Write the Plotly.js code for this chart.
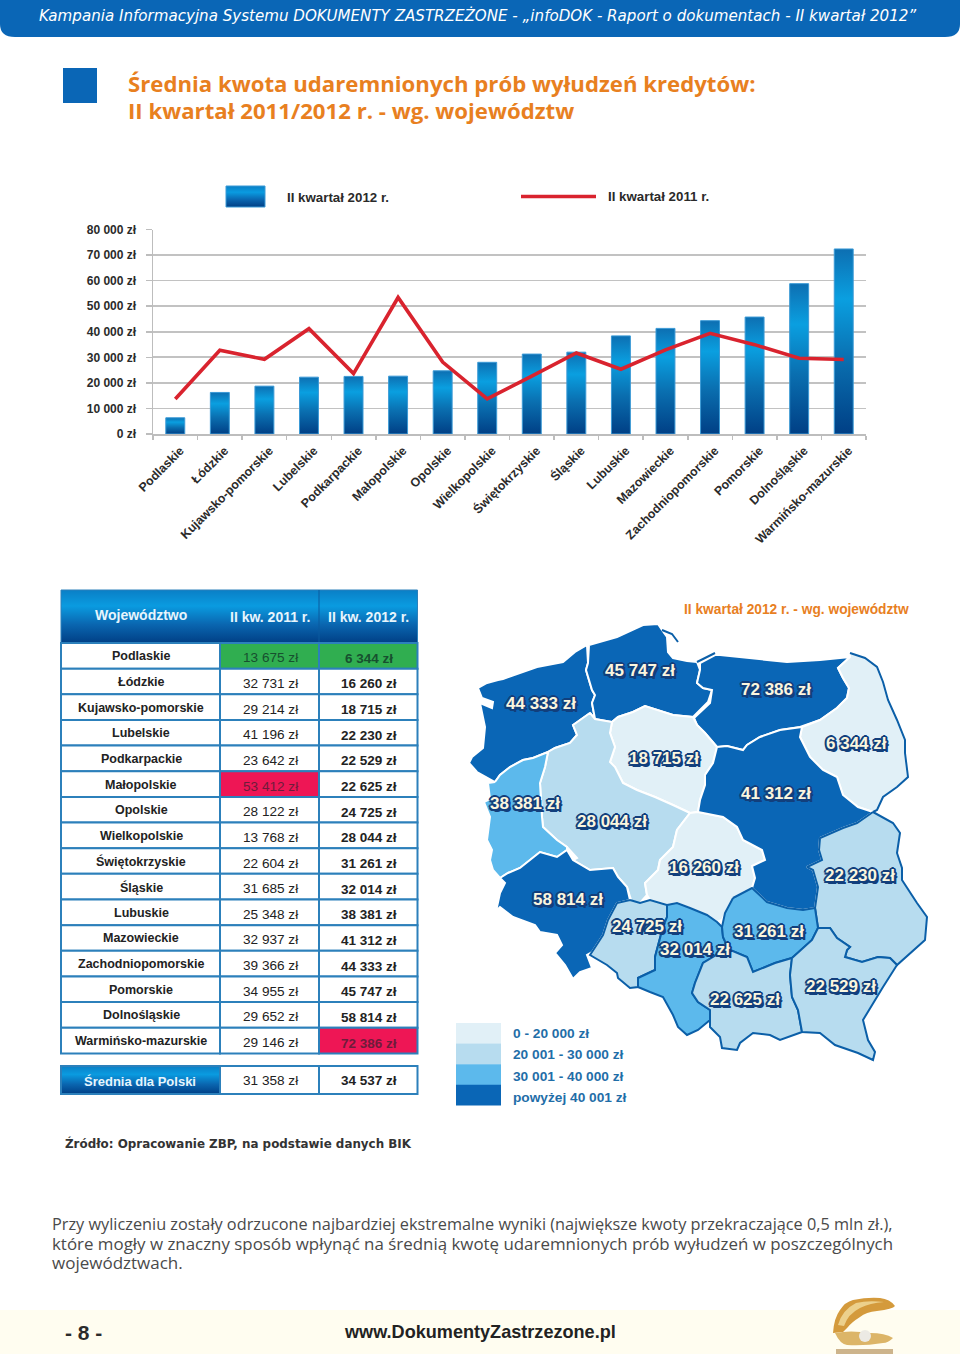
<!DOCTYPE html>
<html lang="pl"><head><meta charset="utf-8">
<script src="https://cdn.plot.ly/plotly-3.0.1.min.js"></script>
<style>html,body{margin:0;padding:0;background:#fff}#g{width:960px;height:1354px}</style>
</head><body><div id="g"></div>
<script>
const regions=["Podlaskie","Łódzkie","Kujawsko-pomorskie","Lubelskie","Podkarpackie","Małopolskie","Opolskie","Wielkopolskie","Świętokrzyskie","Śląskie","Lubuskie","Mazowieckie","Zachodniopomorskie","Pomorskie","Dolnośląskie","Warmińsko-mazurskie"];
const q2_2011=[13675,32731,29214,41196,23642,53412,28122,13768,22604,31685,25348,32937,39366,34955,29652,29146];
const q2_2012=[6344,16260,18715,22230,22529,22625,24725,28044,31261,32014,38381,41312,44333,45747,58814,72386];
const avg2011=31358, avg2012=34537;
const yTicks=[0,10000,20000,30000,40000,50000,60000,70000,80000];
const legendBins=["0 - 20 000 zł","20 001 - 30 000 zł","30 001 - 40 000 zł","powyżej 40 001 zł"];
const binColors=["#e1f0f7","#b7dcef","#5cb9ec","#0a66b6"];

const outlineZachodniopomorskie=[[478,688],[487,683],[498,680],[503,679],[537,667],[563,662],[575,652],[587,645],[588,663],[586,670],[592,690],[595,695],[592,703],[595,719],[590,713],[573,725],[577,735],[570,743],[555,748],[548,752],[533,758],[523,760],[510,767],[500,775],[495,782],[488,778],[477,772],[469,763],[472,757],[483,748],[485,727],[480,703],[492,708],[493,702],[482,698]];
const outlinePomorskie=[[589,645],[617,637],[643,625],[658,624],[662,630],[667,637],[668,652],[673,658],[687,661],[697,662],[700,670],[697,683],[703,688],[712,690],[708,702],[693,717],[673,715],[657,710],[645,706],[633,712],[618,717],[612,722],[595,719],[592,703],[595,695],[592,690],[586,670],[588,663]];
const outlineWarminsko=[[700,663],[715,655],[720,655],[760,659],[787,662],[820,660],[850,657],[838,668],[843,678],[849,688],[847,698],[837,708],[820,720],[800,727],[780,730],[760,737],[747,745],[743,750],[727,746],[717,747],[705,733],[697,725],[694,718],[710,703],[712,690],[703,688],[697,683],[700,670]];
const outlinePodlaskie=[[850,653],[865,658],[877,667],[883,682],[888,700],[897,720],[905,740],[905,753],[908,777],[897,787],[883,797],[877,810],[873,812],[858,807],[843,795],[837,777],[823,770],[810,757],[800,737],[802,727],[820,720],[837,708],[847,698],[849,688],[843,678],[838,668],[850,657]];
const outlineKujawsko=[[618,717],[633,712],[645,706],[657,710],[673,715],[693,717],[697,725],[705,733],[717,747],[713,763],[705,775],[705,785],[700,800],[698,812],[690,813],[673,805],[655,797],[637,790],[623,783],[615,767],[610,762],[615,747],[610,733],[612,722]];
const outlineWielkopolskie=[[590,713],[595,719],[612,722],[610,733],[615,747],[610,762],[615,767],[623,783],[637,790],[655,797],[673,805],[690,813],[677,830],[673,847],[660,860],[658,870],[645,883],[647,895],[640,903],[632,903],[627,887],[618,877],[613,868],[590,870],[573,860],[577,858],[567,847],[557,840],[543,827],[542,817],[540,783],[545,767],[548,752],[555,748],[570,743],[577,735],[573,725]];
const outlineLubuskie=[[495,782],[500,775],[510,767],[523,760],[533,758],[548,752],[545,767],[540,783],[542,817],[543,827],[557,840],[567,847],[567,850],[557,857],[540,852],[520,868],[508,873],[500,878],[493,870],[490,860],[492,850],[487,840],[490,817],[484,802],[490,799],[488,783]];
const outlineDolnoslaskie=[[500,878],[508,873],[520,868],[540,852],[557,857],[567,850],[573,860],[590,870],[613,868],[618,877],[627,887],[630,900],[617,903],[608,920],[603,935],[592,952],[587,955],[592,968],[580,972],[573,979],[565,965],[555,953],[562,945],[557,935],[540,932],[535,925],[513,917],[500,907],[492,915],[497,907],[500,893],[505,883]];
const outlineOpolskie=[[630,900],[640,903],[650,900],[667,905],[667,917],[663,927],[660,938],[655,957],[655,970],[638,978],[638,987],[630,988],[618,978],[617,973],[607,965],[590,955],[592,952],[603,935],[608,920],[617,903]];
const outlineSlaskie=[[667,905],[677,903],[690,908],[707,915],[717,922],[722,927],[723,937],[728,948],[713,957],[703,963],[695,983],[692,993],[698,1002],[710,1010],[710,1020],[698,1030],[687,1035],[678,1027],[673,1015],[663,997],[650,992],[638,987],[638,978],[655,970],[655,957],[660,938],[663,927],[667,917]];
const outlineLodzkie=[[698,812],[723,817],[737,827],[743,840],[762,850],[765,860],[752,866],[755,878],[752,888],[733,898],[722,920],[717,922],[707,915],[690,908],[677,903],[667,905],[650,900],[647,895],[645,883],[658,870],[660,860],[673,847],[677,830],[690,813]];
const outlineMazowieckie=[[717,747],[727,746],[743,750],[747,745],[760,737],[780,730],[802,727],[800,737],[810,757],[823,770],[837,777],[843,795],[858,807],[873,812],[857,823],[843,828],[820,838],[819,850],[822,860],[807,867],[813,870],[818,887],[815,908],[803,910],[787,908],[767,902],[752,888],[755,878],[752,866],[765,860],[762,850],[743,840],[737,827],[723,817],[698,812],[700,800],[705,785],[705,775],[713,763]];
const outlineLubelskie=[[873,812],[893,823],[900,833],[897,853],[902,868],[902,880],[917,903],[927,917],[925,940],[897,965],[890,958],[878,957],[862,962],[845,957],[847,950],[850,947],[837,938],[830,928],[818,928],[815,908],[818,887],[813,870],[807,867],[822,860],[819,850],[820,838],[843,828],[857,823]];
const outlineSwietokrzyskie=[[733,898],[752,888],[767,902],[787,908],[803,910],[815,908],[818,928],[812,940],[792,958],[775,963],[753,972],[747,957],[730,950],[728,948],[723,937],[722,927],[725,913]];
const outlineMalopolskie=[[728,948],[730,950],[747,957],[753,972],[775,963],[792,958],[790,975],[792,997],[798,1010],[802,1032],[780,1040],[770,1035],[753,1033],[740,1043],[737,1050],[722,1048],[720,1037],[710,1027],[710,1010],[698,1002],[692,993],[695,983],[703,963],[713,957]];
const outlinePodkarpackie=[[792,958],[812,940],[818,928],[830,928],[837,938],[850,947],[847,950],[845,957],[862,962],[878,957],[890,958],[897,965],[883,987],[863,1020],[868,1040],[875,1052],[873,1060],[858,1053],[835,1045],[820,1033],[802,1032],[798,1010],[792,997],[790,975]];
const coastPodlaskie=[[850,653],[865,658],[877,667],[883,682],[888,700],[897,720],[905,740],[905,753],[908,777],[897,787],[883,797],[877,810],[873,812]];
const coastHel=[[662,630],[672,634],[678,642]];
const coastSpit=[[697,662],[707,657],[715,653]];
const mapLabels=[["Zachodniopomorskie",541,703],["Pomorskie",640,670],["Warmińsko-mazurskie",776,689],["Podlaskie",856,743],["Kujawsko-pomorskie",664,758],["Mazowieckie",776,793],["Lubuskie",525,803],["Wielkopolskie",612,821],["Łódzkie",704,867],["Lubelskie",860,875],["Dolnośląskie",568,899],["Opolskie",647,926],["Świętokrzyskie",769,931],["Śląskie",695,949],["Małopolskie",745,999],["Podkarpackie",841,986]];

const SANS='"Liberation Sans",Arial,sans-serif';
const zl=n=>String(n).replace(/\B(?=(\d{3})+$)/g,' ')+' zł';
const binColor=v=>v<=20000?binColors[0]:v<=30000?binColors[1]:v<=40000?binColors[2]:binColors[3];
const val12=name=>q2_2012[regions.indexOf(name)];
const GRAD_H='rgb(1,2,3)';  // marker colour swapped for the SVG gradient afterwards

const shapes=[],ann=[];
const rect=(x0,y0,x1,y1,fill,line,w,layer)=>shapes.push({type:'rect',xref:'x2',yref:'y2',x0,y0,x1,y1,fillcolor:fill,line:{color:line||fill,width:line?(w||1):0},layer:layer||'below'});
const text=(t,x,y,size,color,o)=>ann.push(Object.assign({text:t,x,y,xref:'x2',yref:'y2',showarrow:false,xanchor:'left',yanchor:'middle',align:'left',borderpad:0,font:{family:SANS,size,color}},o||{}));
const path=(d,fill)=>shapes.push({type:'path',xref:'x2',yref:'y2',path:d,fillcolor:fill,line:{width:0},layer:'below'});
const sized=(t,s)=>'<span style="font-size:'+s+'px">'+t+'</span>';

// page furniture
path('M0,0 L960,0 L960,24 Q960,37 945,37 L15,37 Q0,37 0,24 Z','#0a66b6');
text('Kampania Informacyjna Systemu DOKUMENTY ZASTRZEŻONE - „infoDOK - Raport o dokumentach - II kwartał 2012”',38,15,15,'#ffffff',{font:{family:'"DejaVu Sans",sans-serif',size:15.1,color:'#fff',style:'italic'}});
rect(63,68,97,103,'#0a66b6');
text(sized('<b>Średnia kwota udaremnionych prób wyłudzeń kredytów:</b>',22.2)+'<br>'+sized('<b>II kwartał 2011/2012 r. - wg. województw</b>',22.2),127,97,22,'#e8801f',{font:{family:'"Open Sans",sans-serif',size:20.8,color:'#e8801f'}});

// chart legend
rect(226,186,265,207,GRAD_H,'#3b9ad6',1);
text('<b>II kwartał 2012 r.</b>',285.5,197,13.3,'#2a2a2a');
shapes.push({type:'line',xref:'x2',yref:'y2',x0:521,x1:596,y0:196.5,y1:196.5,line:{color:'#d9232e',width:3.5}});
text('<b>II kwartał 2011 r.</b>',606.5,196,13.3,'#2a2a2a');

// table
const LX=[61,220,319,417.5],HEAD_T=590,ROW_T=643,ROW_H=25.65;
const LINE='#2c80bb';
rect(LX[0],HEAD_T,LX[3],ROW_T,GRAD_H,'#2c80bb',1);
shapes.push({type:'line',xref:'x2',yref:'y2',x0:LX[2],x1:LX[2],y0:HEAD_T,y1:ROW_T,line:{color:'#0a5a9e',width:1},layer:'below'});
text('<b>Województwo</b>',140.5,615,14,'#e6f5fd',{xanchor:'center'});
text('<b>II kw. 2011 r.</b>',270,616.5,14,'#e6f5fd',{xanchor:'center'});
text('<b>II kw. 2012 r.</b>',368.5,616.5,14,'#e6f5fd',{xanchor:'center'});
const cellFill=(v,col)=>v===Math.max(...col)?'#ee1655':v===Math.min(...col)?'#30ae50':'#ffffff';
regions.forEach((r,i)=>{
  const t=ROW_T+i*ROW_H,b=t+ROW_H,mid=(t+b)/2;
  const a=q2_2011[i],c=q2_2012[i];
  const fillA=cellFill(a,q2_2011), fillC=cellFill(c,q2_2012);
  rect(LX[0],t,LX[1],b,'#ffffff',LINE,2);
  rect(LX[1],t,LX[2],b,fillA,LINE,2);
  rect(LX[2],t,LX[3],b,fillC,LINE,2);
  const ink=f=>f==='#ee1655'?'#6e1c3b':f==='#30ae50'?'#17502f':'#222222';
  text('<b>'+r+'</b>',141,mid+.5,12.5,'#222222',{xanchor:'center'});
  text(zl(a),270,mid+2,13.6,ink(fillA),{xanchor:'center'});
  text('<b>'+zl(c)+'</b>',368.5,mid+2.5,13.5,ink(fillC),{xanchor:'center'});
});
rect(LX[0],1066,LX[1],1094,GRAD_H,LINE,2);
rect(LX[1],1066,LX[2],1094,'#ffffff',LINE,2);
rect(LX[2],1066,LX[3],1094,'#ffffff',LINE,2);
text('<b>Średnia dla Polski</b>',140,1081,13,'#e6f5fd',{xanchor:'center'});
text(zl(avg2011),270,1080,13.6,'#222222',{xanchor:'center'});
text('<b>'+zl(avg2012)+'</b>',368.5,1080,13.5,'#222222',{xanchor:'center'});

// map header, legend and labels
text('<b>II kwartał 2012 r. - wg. województw</b>',683,609.5,13.75,'#e8801f');
legendBins.forEach((b,i)=>{
  const t=1023+i*20.6;
  rect(456,t,501,t+20.8,binColors[i]);
  text('<b>'+b+'</b>',512,1033+i*21.6,13.7,'#1f6ea8');
});
const OUT='#123f7c';
const shadow=[[-2,0],[2,0],[0,-2],[0,2],[-1.5,-1.5],[1.5,-1.5],[-1.5,1.5],[1.5,1.5],[2.5,2.5]].map(p=>p[0]+'px '+p[1]+'px 0.5px '+OUT).join(',');
mapLabels.forEach(l=>{
  ann.push({text:'<b>'+zl(val12(l[0]))+'</b>',x:l[1],y:l[2],xref:'x2',yref:'y2',showarrow:false,xanchor:'center',yanchor:'middle',font:{family:SANS,size:17,color:'#fbf6df',shadow}});
});

// source, note, footer
text('<b>Źródło: Opracowanie ZBP, na podstawie danych BIK</b>',63.5,1143,12,'#333333',{font:{family:'"DejaVu Sans",sans-serif',size:11.9,color:'#333'}});
text(sized('Przy wyliczeniu zostały odrzucone najbardziej ekstremalne wyniki (największe kwoty przekraczające 0,5 mln zł.),',16.3)+'<br>'+sized('które mogły w znaczny sposób wpłynąć na średnią kwotę udaremnionych prób wyłudzeń w poszczególnych',16.9)+'<br>'+sized('województwach.',17),50.5,1243.5,16,'#444',{font:{family:'"Open Sans",sans-serif',size:15.1,color:'#4a4a4a'}});
rect(0,1310,960,1354,'#fffdf0');
text('<b>- 8 -</b>',63.5,1332,21,'#2b2b2b');
text('<b>www.DokumentyZastrzezone.pl</b>',343,1332,18.1,'#222222');
// shell ornament
path('M836,1349 L893,1349 L893,1354 L836,1354 Z','#cdb48c');
path('M833,1333 Q834,1318 840,1310 Q845,1302 853,1300 Q868,1297 880,1298 Q890,1299 895,1306 Q893,1309 877,1311 Q866,1312 860,1317 Q852,1322 848,1327 L843,1332 Z','#d49a3c');
path('M838,1325 Q842,1310 856,1303 Q868,1300 884,1302 Q870,1303 860,1308 Q848,1314 844,1326 Z','#ecd08c');
path('M835,1333 Q850,1330 870,1333 Q885,1333 893,1338 Q888,1343 883,1343 Q865,1346 847,1345 Q840,1344 835,1333 Z','#dcb568');
shapes.push({type:'circle',xref:'x2',yref:'y2',x0:859,x1:871,y0:1330,y1:1342,fillcolor:'#eceae4',line:{width:0},layer:'below'});

// traces
const traces=[];
traces.push({type:'bar',name:'II kwartał 2012 r.',x:regions,y:q2_2012,width:.425,marker:{color:'#0a7fc8',line:{color:'#3b9ad6',width:1}},xaxis:'x',yaxis:'y',hoverinfo:'skip'});
traces.push({type:'scatter',mode:'lines',name:'II kwartał 2011 r.',x:regions,y:q2_2011,line:{color:'#d9232e',width:3.6},xaxis:'x',yaxis:'y',hoverinfo:'skip'});
const mapPoly=(name,pts,lineColor)=>{
  const closed=pts.concat([pts[0]]);
  traces.push({type:'scatter',mode:'lines',name,x:closed.map(p=>p[0]),y:closed.map(p=>p[1]),fill:'toself',fillcolor:binColor(val12(name)),line:{color:lineColor,width:2},xaxis:'x2',yaxis:'y2',hoverinfo:'skip'});
};
const mapLine=(name,pts)=>traces.push({type:'scatter',mode:'lines',name,x:pts.map(p=>p[0]),y:pts.map(p=>p[1]),line:{color:'#0b5fa8',width:2},xaxis:'x2',yaxis:'y2',hoverinfo:'skip'});
const W='#ffffff',D='#0b5fa8';
mapPoly('Zachodniopomorskie',outlineZachodniopomorskie,W);
mapPoly('Pomorskie',outlinePomorskie,W);
mapPoly('Warmińsko-mazurskie',outlineWarminsko,W);
mapPoly('Podlaskie',outlinePodlaskie,W);
mapPoly('Kujawsko-pomorskie',outlineKujawsko,W);
mapPoly('Wielkopolskie',outlineWielkopolskie,W);
mapPoly('Lubuskie',outlineLubuskie,W);
mapPoly('Dolnośląskie',outlineDolnoslaskie,W);
mapPoly('Łódzkie',outlineLodzkie,W);
mapPoly('Mazowieckie',outlineMazowieckie,W);
mapPoly('Opolskie',outlineOpolskie,D);
mapPoly('Śląskie',outlineSlaskie,D);
mapPoly('Lubelskie',outlineLubelskie,D);
mapPoly('Świętokrzyskie',outlineSwietokrzyskie,D);
mapPoly('Małopolskie',outlineMalopolskie,D);
mapPoly('Podkarpackie',outlinePodkarpackie,D);
mapLine('granica',coastPodlaskie);mapLine('Hel',coastHel);mapLine('Mierzeja',coastSpit);

const layout={width:960,height:1354,margin:{l:0,r:0,t:0,b:0},paper_bgcolor:'#fff',plot_bgcolor:'rgba(0,0,0,0)',showlegend:false,bargap:.575,hovermode:false,
  font:{family:SANS},shapes,annotations:ann,
  xaxis:{domain:[153/960,866/960],anchor:'y',type:'category',tickson:'boundaries',ticks:'outside',ticklen:4,tickcolor:'#bdbdbd',tickwidth:1.5,showline:true,linecolor:'#bdbdbd',linewidth:1.5,showgrid:false,tickangle:-45,tickfont:{family:SANS,size:12.4,color:'#2b2b2b',weight:700},ticklabelshift:5,ticklabelstandoff:3,automargin:false,fixedrange:true},
  yaxis:{domain:[1-434/1354,1-229.5/1354],anchor:'x',range:[0,80000],tickvals:yTicks,ticktext:yTicks.map(zl),ticks:'outside',ticklen:6,tickcolor:'#bdbdbd',tickwidth:1.5,showline:true,linecolor:'#bdbdbd',linewidth:1.5,gridcolor:'#c2c2c2',gridwidth:1.7,zeroline:false,tickfont:{family:SANS,size:12,color:'#2b2b2b',weight:700},ticklabelstandoff:7,automargin:false,fixedrange:true},
  xaxis2:{domain:[0,1],anchor:'y2',range:[0,960],visible:false,fixedrange:true},
  yaxis2:{domain:[0,1],anchor:'x2',range:[1354,0],visible:false,fixedrange:true}
};
Plotly.newPlot('g',traces,layout,{staticPlot:true,displayModeBar:false}).then(gd=>{
  const svg=gd.querySelector('svg.main-svg');
  const NS='http://www.w3.org/2000/svg';
  const defs=document.createElementNS(NS,'defs');
  const grad=(id,stops)=>{
    const g=document.createElementNS(NS,'linearGradient');
    g.setAttribute('id',id);g.setAttribute('x1','0');g.setAttribute('x2','0');g.setAttribute('y1','0');g.setAttribute('y2','1');
    stops.forEach(s=>{const e=document.createElementNS(NS,'stop');e.setAttribute('offset',s[0]);e.setAttribute('stop-color',s[1]);g.appendChild(e);});
    defs.appendChild(g);
  };
  grad('gBar',[[0,'#0d6fb2'],[.27,'#0a9fe0'],[.6,'#0a6fb0'],[1,'#003f85']]);
  grad('gHead',[[0,'#0a7fc6'],[.3,'#0a9be0'],[.65,'#0a66b0'],[1,'#003f85']]);
  svg.insertBefore(defs,svg.firstChild);
  gd.querySelectorAll('.barlayer .point path').forEach(p=>{p.style.fill='url(#gBar)';});
  gd.querySelectorAll('.shapelayer path').forEach(p=>{if(p.style.fill.replace(/\s/g,'')===GRAD_H)p.style.fill='url(#gHead)';});
});
</script></body></html>
